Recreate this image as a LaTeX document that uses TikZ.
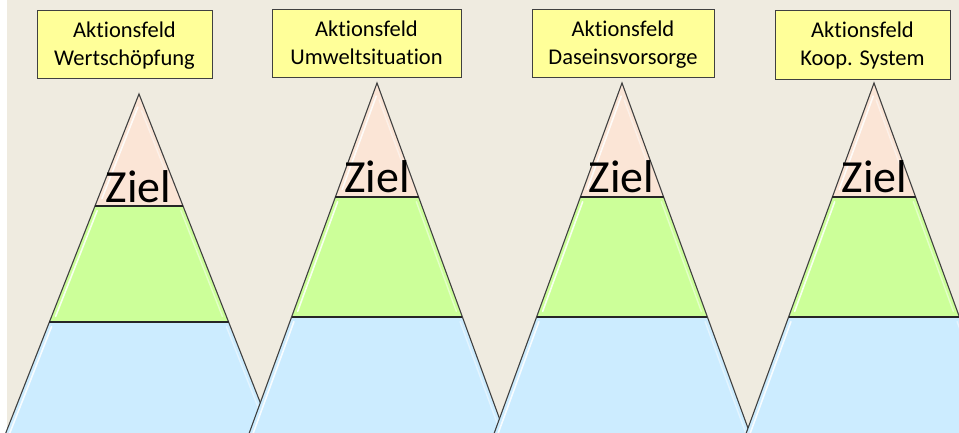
\documentclass[tikz,border=0pt]{standalone}
\usepackage{fontspec}
\setmainfont{Carlito}[Ligatures=NoCommon]
\definecolor{bgc}{HTML}{EFEBE0}
\definecolor{tipc}{HTML}{FBE5D6}
\definecolor{grnc}{HTML}{CCFF99}
\definecolor{bluc}{HTML}{CCECFF}
\definecolor{boxc}{HTML}{FFFF99}
\definecolor{edgec}{HTML}{404040}
\tikzset{
  edge/.style={draw=edgec, line width=1.1pt, line join=miter},
  divider/.style={draw=black!85, line width=1.6pt},
  hl/.style={draw=white, line width=1.6pt, line cap=round, opacity=0.85},
  hlr/.style={draw=white, line width=1.4pt, line cap=round, opacity=0.45},
  fieldbox/.style={draw=edgec, line width=0.8pt, fill=boxc, inner sep=0pt},
  fieldtext/.style={font=\fontsize{22.5}{28}\selectfont, anchor=base, inner sep=0pt},
  zieltext/.style={font=\fontsize{46}{50}\selectfont, anchor=base, inner sep=0pt}
}
\newcommand\mypyr[5]{%
  \pgfmathsetmacro\pa{#5*(#3-#2)}%
  \pgfmathsetmacro\pb{#5*(#4-#2)}%
  \pgfmathsetmacro\pc{#5*(433-#2)}%
  \fill[tipc] (#1,#2) -- (#1-\pa,#3) -- (#1+\pa,#3) -- cycle;
  \fill[grnc] (#1-\pa,#3) -- (#1+\pa,#3) -- (#1+\pb,#4) -- (#1-\pb,#4) -- cycle;
  \fill[bluc] (#1-\pb,#4) -- (#1+\pb,#4) -- (#1+\pc,433) -- (#1-\pc,433) -- cycle;
  % highlights
  \draw[hl, xshift=4pt, shorten <=14pt, shorten >=8pt] (#1,#2) -- (#1-\pa,#3);
  \draw[hlr, xshift=-4pt, shorten <=18pt, shorten >=30pt] (#1,#2) -- (#1+\pa,#3);
  \draw[hl, xshift=4pt, shorten <=5pt, shorten >=6pt] (#1-\pa,#3) -- (#1-\pb,#4);
  \draw[hlr, xshift=-4pt, shorten <=5pt, shorten >=6pt] (#1+\pa,#3) -- (#1+\pb,#4);
  \draw[hl, xshift=4pt, shorten <=5pt, shorten >=0pt] (#1-\pb,#4) -- (#1-\pc,433);
  \draw[hlr, xshift=-4pt, shorten <=5pt, shorten >=0pt] (#1+\pb,#4) -- (#1+\pc,433);
  % outline
  \draw[edge] (#1-\pc,433) -- (#1,#2) -- (#1+\pc,433);
  \draw[divider] (#1-\pa,#3) -- (#1+\pa,#3);
  \draw[divider] (#1-\pb,#4) -- (#1+\pb,#4);
}
\begin{document}
\begin{tikzpicture}[x=1pt,y=-1pt]
\useasboundingbox (0,0) rectangle (959,433);
\fill[white] (0,0) rectangle (959,433);
\fill[bgc] (7,0) rectangle (959,433);
\begin{scope}
  \clip (0,0) rectangle (959,433);
  \mypyr{139}{94}{206}{322}{0.393}
  \mypyr{377}{83}{197}{317}{0.365}
  \mypyr{622}{83}{197}{317}{0.365}
  \mypyr{874}{83}{197}{317}{0.365}
\end{scope}
\node[zieltext] (z1) at (138.5,202) {Ziel};
\node[zieltext] (z2) at (377,193) {Ziel};
\node[zieltext] (z3) at (621.5,193) {Ziel};
\node[zieltext] (z4) at (874.5,193) {Ziel};
\node[fieldbox, minimum width=175pt, minimum height=68pt] (b1) at (124.5,44) {};
\node[fieldbox, minimum width=189pt, minimum height=68pt] (b2) at (366.5,43) {};
\node[fieldbox, minimum width=182pt, minimum height=68pt] (b3) at (623,43) {};
\node[fieldbox, minimum width=175pt, minimum height=69pt] (b4) at (862.5,44.5) {};
\node[fieldtext] (t1a) at (124.5,37.5) {Aktionsfeld};
\node[fieldtext] (t1b) at (124.5,65.5) {Wertschöpfung};
\node[fieldtext] (t2a) at (366.5,36.7) {Aktionsfeld};
\node[fieldtext] (t2b) at (366.5,64.5) {Umweltsituation};
\node[fieldtext] (t3a) at (623,36.7) {Aktionsfeld};
\node[fieldtext] (t3b) at (623,64.5) {Daseinsvorsorge};
\node[fieldtext] (t4a) at (862.5,37.7) {Aktionsfeld};
\node[fieldtext] (t4b) at (862.5,65.3) {Koop. System};
\end{tikzpicture}
\end{document}
